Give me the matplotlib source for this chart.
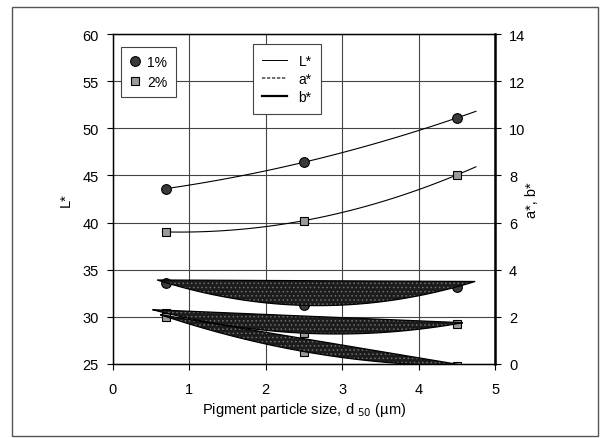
import numpy as np
import matplotlib
matplotlib.use('Agg')
import matplotlib.pyplot as plt
from matplotlib.lines import Line2D
from matplotlib.patches import Rectangle

plt.rcParams['font.family'] = ['Liberation Sans', 'DejaVu Sans']
plt.rcParams['hatch.linewidth'] = 0.6

# particle size d50 (um)
size = [0.7, 2.5, 4.5]

# L* (left axis)
L_1 = [43.6, 46.4, 51.1]
L_2 = [39.0, 40.2, 45.05]

# a*, b* (right axis)
b_1 = [3.44, 2.48, 3.27]
a_2 = [2.15, 1.3, 1.7]
b_2 = [2.0, 0.52, -0.08]

# x span of each trend line
span_L1 = [0.7, 4.75]
span_L2 = [0.65, 4.75]
span_b1 = [0.58, 4.74]
span_a2 = [0.52, 4.58]
span_b2 = [0.62, 4.62]


def trend(x, y, span):
    coef = np.polyfit(x, y, 2)
    xs = np.linspace(span[0], span[1], 80)
    return xs, np.polyval(coef, xs)


fig = plt.figure(figsize=(6.03, 4.39), dpi=100)
ax = fig.add_axes([0.187, 0.169, 0.634, 0.751])
ax2 = ax.twinx()

# outer frame of the figure
fig.patches.append(Rectangle((0.02, 0.005), 0.972, 0.977, transform=fig.transFigure,
                             fill=False, edgecolor='#555555', lw=1.0))

ax.set_xlim(0, 5)
ax.set_ylim(25, 60)
ax2.set_ylim(0, 14)
ax.set_xticks(range(0, 6))
ax.set_yticks(range(25, 61, 5))
ax2.set_yticks(range(0, 15, 2))
ax.grid(True, color='#444444', lw=0.8)
ax.set_axisbelow(True)

for s in ['left', 'bottom', 'top']:
    ax.spines[s].set_linewidth(1.0)
ax2.spines['right'].set_linewidth(1.8)

ax.tick_params(axis='both', labelsize=10.5, direction='out', length=4, width=0.8, pad=6)
ax.tick_params(axis='x', pad=9)
ax2.tick_params(axis='y', labelsize=10.5, direction='out', length=4, width=0.8, pad=6)

# L* trend lines and markers
xs, ys = trend(size, L_1, span_L1)
ax.plot(xs, ys, color='black', lw=0.8)
xs, ys = trend(size, L_2, span_L2)
ax.plot(xs, ys, color='black', lw=0.8)
ax.plot(size, L_1, 'o', ms=7, mfc='#3a3a3a', mec='black', mew=0.8)
ax.plot(size, L_2, 's', ms=6, mfc='#9a9a9a', mec='black', mew=0.8)

# a*, b* trend lines (filled as in the print)
ax2.plot(size, b_1, 'o', ms=7, mfc='#3a3a3a', mec='black', mew=0.8, zorder=2)
ax2.plot(size, a_2, 's', ms=6, mfc='#9a9a9a', mec='black', mew=0.8, zorder=2)
ax2.plot(size, b_2, 's', ms=6, mfc='#9a9a9a', mec='black', mew=0.8, zorder=2)
for vals, span in [(b_1, span_b1), (a_2, span_a2), (b_2, span_b2)]:
    xs, ys = trend(size, vals, span)
    ax2.fill(xs, ys, facecolor='#1c1c1c', hatch='....', edgecolor='#6e6e6e', lw=0, zorder=3)
    ax2.fill(xs, ys, facecolor='none', edgecolor='black', lw=0.9, zorder=4)

ax.set_xlabel('Pigment particle size, d $_{50}$ (µm)', fontsize=10.5, labelpad=3)
ax.set_ylabel('L*', fontsize=10.5, labelpad=7)
ax2.set_ylabel('a*, b*', fontsize=10.5, labelpad=0)

marker_handles = [
    Line2D([], [], ls='none', marker='o', ms=7, mfc='#3a3a3a', mec='black', mew=0.8),
    Line2D([], [], ls='none', marker='s', ms=6, mfc='#9a9a9a', mec='black', mew=0.8),
]
leg1 = ax2.legend(marker_handles, ['1%', '2%'], loc='upper left', bbox_to_anchor=(0.021, 0.961),
                  borderaxespad=0, fancybox=False, edgecolor='#444444', framealpha=1,
                  fontsize=10, handlelength=0.8, handletextpad=0.5, borderpad=0.6, labelspacing=0.4)
leg1.get_frame().set_linewidth(0.8)
ax2.add_artist(leg1)

line_handles = [
    Line2D([], [], color='black', lw=0.7),
    Line2D([], [], color='#555555', lw=1.2, ls=(0, (2, 1))),
    Line2D([], [], color='black', lw=1.6),
]
leg2 = ax2.legend(line_handles, ['L*', 'a*', 'b*'], loc='upper left', bbox_to_anchor=(0.366, 0.97),
                  borderaxespad=0, fancybox=False, edgecolor='#444444', framealpha=1,
                  fontsize=10, handlelength=1.8, handletextpad=0.8, borderpad=0.7, labelspacing=0.3)
leg2.get_frame().set_linewidth(0.8)

fig.savefig('out.png', dpi=100)
